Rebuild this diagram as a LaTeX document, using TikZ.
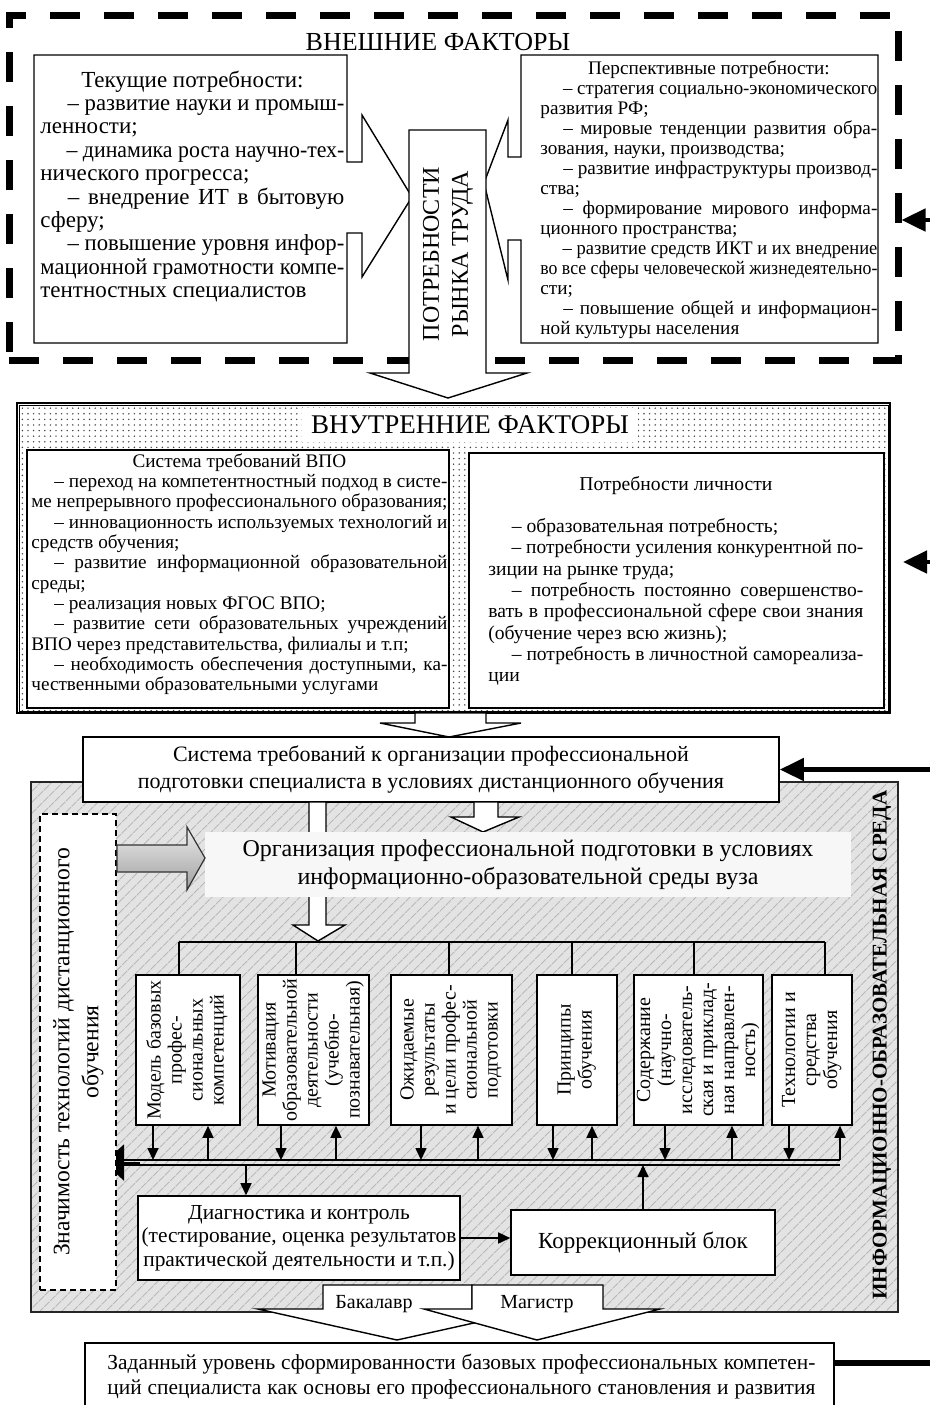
\documentclass[tikz,border=0pt]{standalone}
\usepackage{fontspec}
\setmainfont{Liberation Serif}
\usepackage{graphicx}
\usetikzlibrary{arrows.meta,patterns.meta,positioning}

\newcommand{\fsz}[2]{\fontsize{#1}{#2}\selectfont}
\newcommand{\txj}[1]{\setbox0=\hbox{#1}\ifdim\wd0>\hsize\hbox to\hsize{\resizebox{\hsize}{\height}{#1}}\else\hbox to\hsize{#1}\fi}
\newcommand{\txl}[1]{\setbox0=\hbox{#1}\ifdim\wd0>\hsize\hbox to\hsize{\resizebox{\hsize}{\height}{#1}}\else\hbox to\hsize{#1\hfil}\fi}
\newcommand{\txc}[1]{\hbox to\hsize{\hfil#1\hfil}}
\newcommand{\tind}{\hspace*{1.2em}}
\newcommand{\vtxt}[1]{\rotatebox{90}{\begin{tabular}{@{}c@{}}#1\end{tabular}}}

\begin{document}
\begin{tikzpicture}[x=0.5pt,y=-0.5pt,
    whitebox/.style={draw,fill=white,line width=0.8pt,inner sep=0pt},
    txtnode/.style={inner sep=0pt,anchor=base west},
    blockarrow/.style={draw,fill=white,line width=0.7pt,line join=miter},
    smallarrow/.style={line width=0.8pt,-{Triangle[length=6pt,width=5.5pt]}},
    feedback/.style={line width=2.4pt,-{Triangle[length=12pt,width=11pt]}},
    colbox/.style={whitebox,font=\fsz{10}{10.5}}]
    \path[use as bounding box,fill=white] (0,0) rectangle (930,1405);

    \node[draw,line width=3.5pt,dash pattern=on 15pt off 12pt,inner sep=0pt,
          minimum width=444.5pt,minimum height=172.5pt] (ext) at (453.5,187.5) {};
    \node[font=\fsz{13}{15}] (extt) at (438,42) {ВНЕШНИЕ ФАКТОРЫ};

    \draw[blockarrow] (34,55) -- (347,55) -- (347,162) -- (362,162) -- (362,115) -- (412,197)
        -- (362,277) -- (362,233) -- (347,233) -- (347,343) -- (34,343) -- cycle;
    \draw[blockarrow] (521,55) -- (878,55) -- (878,343) -- (521,343) -- (521,240) -- (508,240)
        -- (508,280) -- (484,183) -- (508,120) -- (508,157) -- (521,157) -- cycle;

    \node[txtnode,font=\fsz{11.5}{11.7}] (tek) at (40,87) {\parbox[t]{152pt}{%
        \txc{Текущие потребности:}
        \txj{\tind – развитие науки и промыш-}
        \txl{ленности;}
        \txj{\tind – динамика роста научно-тех-}
        \txl{нического прогресса;}
        \txj{\tind – внедрение ИТ в бытовую}
        \txl{сферу;}
        \txj{\tind – повышение уровня инфор-}
        \txj{мационной грамотности компе-}
        \txl{тентностных специалистов}}};
    \node[txtnode,font=\fsz{9.6}{10}] (persp) at (540,74) {\parbox[t]{168.5pt}{%
        \txc{Перспективные потребности:}
        \txj{\tind – стратегия социально-экономического}
        \txl{развития РФ;}
        \txj{\tind – мировые тенденции развития обра-}
        \txl{зования, науки, производства;}
        \txj{\tind – развитие инфраструктуры производ-}
        \txl{ства;}
        \txj{\tind – формирование мирового информа-}
        \txl{ционного пространства;}
        \txj{\tind – развитие средств ИКТ и их внедрение}
        \txj{во все сферы человеческой жизнедеятельно-}
        \txl{сти;}
        \txj{\tind – повышение общей и информацион-}
        \txl{ной культуры населения}}};

    \draw[blockarrow] (409,130) -- (486,130) -- (486,373) -- (527,373) -- (448,398)
        -- (370,373) -- (409,373) -- cycle;
    \node[rotate=90,align=center,font=\fsz{12}{14.5}] (rynok) at (448,254) {ПОТРЕБНОСТИ\\РЫНКА ТРУДА};

    \coordinate (fbT) at (930,220);
    \draw[feedback] (fbT) -- (fbT -| ext.east);

    \node[draw,line width=1pt,preaction={fill=white},pattern={Dots[distance=2.8pt,radius=0.4pt]},
          pattern color=black!75,inner sep=0pt,minimum width=436.5pt,minimum height=155pt] (vnutr) at (453.5,558) {};
    \draw[line width=0.4pt] ([shift={(1.5pt,-1.5pt)}]vnutr.north west) rectangle ([shift={(-1.5pt,1.5pt)}]vnutr.south east);
    \node[fill=white,minimum width=168pt,minimum height=17pt,font=\fsz{13.5}{15}] (vnutrt) at (470,425) {ВНУТРЕННИЕ ФАКТОРЫ};
    \node[whitebox,minimum width=211pt,minimum height=129pt] (vpob) at (238,579) {};
    \node[whitebox,minimum width=207.5pt,minimum height=127.5pt] (lichb) at (676.5,580.5) {};

    \node[txtnode,font=\fsz{9.6}{10.18}] (vpo) at (31,467) {\parbox[t]{208pt}{%
        \txc{Система требований ВПО}
        \txj{\tind – переход на компетентностный подход в систе-}
        \txj{ме непрерывного профессионального образования;}
        \txj{\tind – инновационность используемых технологий и}
        \txl{средств обучения;}
        \txj{\tind – развитие информационной образовательной}
        \txl{среды;}
        \txl{\tind – реализация новых ФГОС ВПО;}
        \txj{\tind – развитие сети образовательных учреждений}
        \txl{ВПО через представительства, филиалы и т.п;}
        \txj{\tind – необходимость обеспечения доступными, ка-}
        \txl{чественными образовательными услугами}}};
    \node[txtnode,font=\fsz{9.8}{10.65}] (lich) at (488,490) {\parbox[t]{187.5pt}{%
        \txc{Потребности личности}
        \txl{}
        \txl{\tind – образовательная потребность;}
        \txj{\tind – потребности усиления конкурентной по-}
        \txl{зиции на рынке труда;}
        \txj{\tind – потребность постоянно совершенство-}
        \txj{вать в профессиональной сфере свои знания}
        \txl{(обучение через всю жизнь);}
        \txj{\tind – потребность в личностной самореализа-}
        \txl{ции}}};

    \coordinate (fbM) at (930,562);
    \draw[feedback] (fbM) -- ([xshift=6pt]fbM -| vnutr.east);

    \draw[blockarrow] (415,713) -- (486,713) -- (486,723) -- (521,723) -- (449,737)
        -- (380,723) -- (415,723) -- cycle;

    \node[draw=black!85,line width=1pt,preaction={fill=gray!22},
          pattern={Lines[angle=45,distance=4pt,line width=0.5pt]},pattern color=gray!55,
          inner sep=0pt,minimum width=433.5pt,minimum height=265pt] (sreda) at (464.5,1047) {};
    \node[rotate=90,font=\bfseries\fsz{10.5}{12}] (sredat) at (882,1045) {ИНФОРМАЦИОННО-ОБРАЗОВАТЕЛЬНАЯ СРЕДА};

    \node[whitebox,minimum width=348pt,minimum height=32.5pt,align=center,font=\fsz{11}{13.5}] (treb) at (431,769.5)
        {Система требований к организации профессиональной\\подготовки специалиста в условиях дистанционного обучения};
    \coordinate (fbS) at (930,769.5);
    \draw[feedback] (fbS) -- (treb.east);

    \draw[blockarrow] (309,802) -- (326,802) -- (326,925) -- (345,925) -- (318,941)
        -- (293,925) -- (309,925) -- cycle;
    \draw[blockarrow] (474,802) -- (498,802) -- (498,817) -- (519,817) -- (483,832)
        -- (451,817) -- (474,817) -- cycle;
    \node[fill=gray!6,inner sep=0pt,minimum width=323pt,minimum height=32.5pt,align=center,font=\fsz{12}{14}] (org) at (528,864.5)
        {Организация профессиональной подготовки в условиях\\информационно-образовательной среды вуза};

    \coordinate (busL) at (117,1160);
    \coordinate (busR) at (840,1165);
    \draw[line width=1pt,-{Triangle[length=10pt,width=18pt]}] (140,1162.5) -- (104,1162.5);
    \node[draw,fill=white,line width=0.8pt,dash pattern=on 3pt off 2pt,inner sep=0pt,
          minimum width=38pt,minimum height=238pt,font=\fsz{11.8}{14.5}] (znach) at (78,1052)
        {\vtxt{Значимость технологий дистанционного\\обучения}};
    \draw[draw=black!80,line width=0.6pt,top color=gray!15,bottom color=gray!75]
        (117,845) -- (187,845) -- (187,827) -- (205,858) -- (187,890) -- (187,872) -- (117,872) -- cycle;

    \begin{scope}[every node/.append style={colbox,minimum height=75pt}]
        \node[minimum width=52pt] (m1) at (188,1050) {\vtxt{Модель базовых\\профес-\\сиональных\\компетенций}};
        \node[minimum width=55.5pt] (m2) at (313.5,1050) {\vtxt{Мотивация\\образовательной\\деятельности\\(учебно-\\познавательная)}};
        \node[minimum width=60.5pt] (m3) at (451.5,1050) {\vtxt{Ожидаемые\\результаты\\и цели профес-\\сиональной\\подготовки}};
        \node[minimum width=40pt] (m4) at (577,1050) {\vtxt{Принципы\\обучения}};
        \node[minimum width=64.5pt] (m5) at (698.5,1050) {\vtxt{Содержание\\(научно-\\исследователь-\\ская и приклад-\\ная направлен-\\ность)}};
        \node[minimum width=40pt] (m6) at (812,1050) {\vtxt{Технологии и\\средства\\обучения}};
    \end{scope}

    \draw[line width=0.8pt] (179,942) -- (825,942);
    \foreach \n/\x in {m1/179,m2/296,m3/449,m4/572,m5/694,m6/825}
        \draw[line width=0.8pt] (\x,942) -- (\x,942 |- \n.north);

    \foreach \n/\d/\u in {m1/153/208,m2/281/336,m3/421/478,m4/553/592,m5/665/732,m6/789/840} {
        \draw[smallarrow] (\d,0 |- \n.south) -- (\d,0 |- busL);
        \draw[smallarrow] (\u,0 |- busL) -- (\u,0 |- \n.south);
    }
    \draw[line width=0.9pt] (busL) -- (busL -| busR);
    \draw[line width=0.9pt] (busL |- busR) -- (busR);

    \node[whitebox,minimum width=161pt,minimum height=42pt,align=center,font=\fsz{10.7}{11.75}] (diag) at (299,1238)
        {Диагностика и контроль\\(тестирование, оценка результатов\\практической деятельности и т.п.)};
    \node[whitebox,minimum width=132pt,minimum height=32.5pt,font=\fsz{11.5}{13}] (korr) at (643,1242.5) {Коррекционный блок};
    \draw[smallarrow] (246,0 |- busR) -- (246,0 |- diag.north);
    \draw[smallarrow] (korr.north) -- (korr.north |- busR);
    \draw[smallarrow] (diag.east) -- (diag.east -| korr.west);

    \draw[blockarrow] (323,1285) -- (472,1285) -- (472,1309) -- (537,1309) -- (397,1340)
        -- (258,1309) -- (323,1309) -- cycle;
    \draw[blockarrow] (472,1285) -- (603,1285) -- (603,1309) -- (660,1309) -- (537,1340)
        -- (424,1309) -- (472,1309) -- cycle;
    \node[font=\fsz{10}{12}] (bak) at (374,1304) {Бакалавр};
    \node[font=\fsz{10}{12}] (mag) at (537,1304) {Магистр};

    \node[whitebox,minimum width=374.5pt,minimum height=35pt,anchor=north west] (itog) at (84,1342) {};
    \node[txtnode,font=\fsz{10.7}{12.5}] (itogt) at (107,1369) {\parbox[t]{354pt}{%
        \txj{Заданный уровень сформированности базовых профессиональных компетен-}
        \txj{ций специалиста как основы его профессионального становления и развития}}};
    \coordinate (fbB) at (930,1363);
    \draw[line width=2.6pt] (fbB -| itog.east) -- (fbB);
\end{tikzpicture}
\end{document}
